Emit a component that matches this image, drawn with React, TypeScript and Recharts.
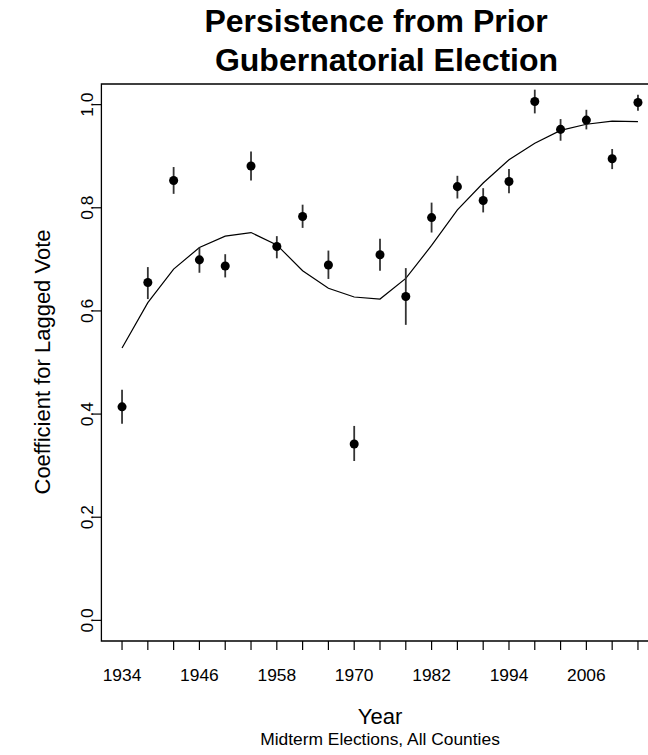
import { ComposedChart, Line, Scatter, ErrorBar, XAxis, YAxis, ReferenceArea } from 'recharts';

const years = [1934, 1938, 1942, 1946, 1950, 1954, 1958, 1962, 1966, 1970, 1974, 1978, 1982, 1986, 1990, 1994, 1998, 2002, 2006, 2010, 2014];
const coef = [0.414, 0.655, 0.853, 0.699, 0.687, 0.881, 0.725, 0.783, 0.689, 0.342, 0.709, 0.628, 0.781, 0.841, 0.814, 0.851, 1.006, 0.952, 0.97, 0.895, 1.004];
const lower = [0.381, 0.623, 0.827, 0.674, 0.665, 0.853, 0.702, 0.761, 0.662, 0.309, 0.678, 0.573, 0.752, 0.818, 0.791, 0.828, 0.983, 0.93, 0.952, 0.875, 0.988];
const upper = [0.447, 0.685, 0.879, 0.723, 0.71, 0.909, 0.745, 0.806, 0.717, 0.377, 0.74, 0.683, 0.81, 0.862, 0.838, 0.875, 1.029, 0.972, 0.99, 0.914, 1.019];
const smooth = [0.528, 0.616, 0.681, 0.723, 0.745, 0.752, 0.728, 0.678, 0.644, 0.627, 0.623, 0.663, 0.727, 0.796, 0.848, 0.893, 0.925, 0.95, 0.962, 0.968, 0.967];

const xLabels = [1934, 1946, 1958, 1970, 1982, 1994, 2006];
const yTicks = [0, 0.2, 0.4, 0.6, 0.8, 1.0];

const rows = years.map((year, i) => ({
  year,
  value: coef[i],
  err: [coef[i] - lower[i], upper[i] - coef[i]],
  fit: smooth[i],
}));

const font = '"Liberation Sans", Arial, Helvetica, sans-serif';

// R-style 4% padding around the data range
const xDomain = [1934 - 3.2, 2014 + 3.2];
const yDomain = [-0.04, 1.04];

const XTick = ({ x, payload }: any) =>
  xLabels.includes(payload.value) ? (
    <text x={x} y={681} textAnchor="middle" fontSize={17.4} fontFamily={font} fill="#000">
      {payload.value}
    </text>
  ) : null;

const YTick = ({ y, payload }: any) => (
  <text
    x={93}
    y={y}
    transform={`rotate(-90, 93, ${y})`}
    textAnchor="middle"
    fontSize={17.4}
    fontFamily={font}
    fill="#000"
  >
    {payload.value.toFixed(1)}
  </text>
);

export default function App() {
  return (
    <div style={{ position: 'absolute', left: 0, top: 0, width: 648, height: 755, overflow: 'hidden', background: '#fff' }}>
      <ComposedChart width={680} height={755} data={rows} margin={{ top: 84, right: 21.4, left: 0, bottom: 0 }}>
        <XAxis
          type="number"
          dataKey="year"
          domain={xDomain}
          ticks={years}
          allowDataOverflow
          axisLine={false}
          tickLine={{ stroke: '#000', strokeWidth: 1.2 }}
          tickSize={9}
          tick={<XTick />}
          height={114}
          interval={0}
        />
        <YAxis
          type="number"
          domain={yDomain}
          ticks={yTicks}
          allowDataOverflow
          axisLine={false}
          tickLine={{ stroke: '#000', strokeWidth: 1.2 }}
          tickSize={9}
          tick={<YTick />}
          width={101.4}
          interval={0}
        />
        <ReferenceArea
          x1={xDomain[0]}
          x2={xDomain[1]}
          y1={yDomain[0]}
          y2={yDomain[1]}
          fill="none"
          stroke="#000"
          strokeWidth={1.3}
          ifOverflow="visible"
        />
        <Line dataKey="fit" type="linear" stroke="#000" strokeWidth={1.2} dot={false} isAnimationActive={false} />
        <Scatter dataKey="value" fill="#000" isAnimationActive={false}>
          <ErrorBar dataKey="err" direction="y" width={0} stroke="#333" strokeWidth={1.8} />
        </Scatter>
      </ComposedChart>
      <svg width={648} height={755} style={{ position: 'absolute', left: 0, top: 0, pointerEvents: 'none' }}>
        <g fontFamily={font} fill="#000">
          <text x={376} y={32} textAnchor="middle" fontSize={32} fontWeight="bold">
            Persistence from Prior
          </text>
          <text x={386.5} y={71} textAnchor="middle" fontSize={32} fontWeight="bold">
            Gubernatorial Election
          </text>
          <text x={380} y={724} textAnchor="middle" fontSize={22}>
            Year
          </text>
          <text x={380} y={745} textAnchor="middle" fontSize={17.4}>
            Midterm Elections, All Counties
          </text>
          <text x={50} y={362} transform="rotate(-90, 50, 362)" textAnchor="middle" fontSize={22}>
            Coefficient for Lagged Vote
          </text>
        </g>
      </svg>
    </div>
  );
}
